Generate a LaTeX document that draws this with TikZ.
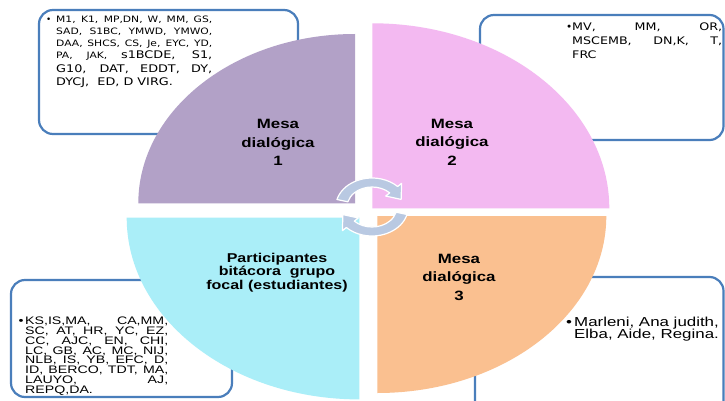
\documentclass[tikz,border=0pt]{standalone}
\usepackage{fontspec}
\usepackage{graphicx}
\setmainfont{Liberation Sans}
\newfontfamily\labfont[FakeStretch=1.25]{Liberation Sans}
\newfontfamily\ariw[FakeStretch=1.3]{Liberation Sans}
\newfontfamily\verw{DejaVu Sans}
\definecolor{purp}{HTML}{B2A1C7}
\definecolor{pinkq}{HTML}{F3B9F1}
\definecolor{peach}{HTML}{FAC090}
\definecolor{cyanq}{HTML}{AAEEF8}
\definecolor{boxblue}{HTML}{4A7EBB}
\definecolor{arrowfill}{RGB}{185,201,226}
\newcommand{\tls}{\verw\fontsize{8.8}{12}\selectfont}
\newcommand{\tlb}{\verw\fontsize{10.5}{12}\selectfont}
\newcommand{\trs}{\verw\fontsize{10.4}{14}\selectfont}
\newcommand{\bls}{\ariw\fontsize{10.9}{10}\selectfont}
\newcommand{\brs}{\ariw\fontsize{13}{12.5}\selectfont}
\newcommand{\wx}[1]{\scalebox{1.22}[1]{#1}}
\tikzset{
  box/.style={draw=boxblue, line width=2.2pt, rounded corners=14pt},
  ln/.style={anchor=base west, inner sep=0pt},
  lbl/.style={align=center, inner sep=0pt, text=black,
    font=\labfont\bfseries\fontsize{13.5}{18.5}\selectfont},
  lblc/.style={align=center, inner sep=0pt, text=black,
    font=\labfont\bfseries\fontsize{12.8}{13.5}\selectfont},
  band/.style={fill=arrowfill, draw=white, line width=1.2pt, line join=round},
}
\begin{document}
\begin{tikzpicture}[x=1pt,y=1pt]
\clip (0,0) rectangle (725,400);
\fill[white] (0,0) rectangle (725,400);
% boxes
\draw[box] (39,266) rectangle (298,390);
\draw[box] (480,260) rectangle (723.5,385);
\draw[box] (11,3) rectangle (232,120);
\draw[box] (475,-20) rectangle (723.5,123);
% quarters
\fill[purp] (355,196.7) -- (138.3,196.7) arc[start angle=180, end angle=90, x radius=216.7, y radius=169.3] -- cycle;
\fill[pinkq] (372.3,191.7) -- (372.3,376.7) arc[start angle=90, end angle=0, x radius=237, y radius=185] -- cycle;
\fill[peach] (377.3,184) -- (606.3,184) arc[start angle=0, end angle=-90, x radius=229, y radius=177] -- cycle;
\fill[cyanq] (359.3,182.3) -- (359.3,0.6) arc[start angle=270, end angle=180, x radius=232.6, y radius=181.7] -- cycle;
% circular arrows
\begin{scope}[shift={(372,193)}, xscale=1.25]
\path[band] (165:29) arc[start angle=165, end angle=45, radius=29] -- (45:33.5) -- (18:24.5) -- (45:15.5) -- (45:20) arc[start angle=45, end angle=165, radius=20] -- cycle;
\path[band] (345:29) arc[start angle=345, end angle=225, radius=29] -- (225:33.5) -- (198:24.5) -- (225:15.5) -- (225:20) arc[start angle=225, end angle=345, radius=20] -- cycle;
\end{scope}
% labels
\node[lbl] (m1) at (278,257.3) {Mesa\\dialógica\\1};
\node[lbl] (m2) at (452,258) {Mesa\\dialógica\\2};
\node[lbl] (m3) at (459,123) {Mesa\\dialógica\\3};
\node[lblc] (pb) at (277,127.7) {Participantes\\bitácora\ \ grupo\\focal (estudiantes)};
% top-left text
\node[ln] (tlb) at (46,377) {\tls •};
\node[ln] (tl1) at (56,377) {\tls\wx{\makebox[127.9pt][s]{M1, K1, MP,DN, W, MM, GS,}}};
\node[ln] (tl2) at (56,365) {\tls\wx{\makebox[127.9pt][s]{SAD, S1BC, YMWD, YMWO,}}};
\node[ln] (tl3) at (56,353.5) {\tls\wx{\makebox[127.9pt][s]{DAA, SHCS, CS, Je, EYC, YD,}}};
\node[ln] (tl4) at (56,341.5) {\wx{\makebox[127.9pt][s]{\tls PA, JAK, \tlb s1BCDE, S1,}}};
\node[ln] (tl5) at (56,328) {\tlb\wx{\makebox[127.9pt][s]{G10, DAT, EDDT, DY,}}};
\node[ln] (tl6) at (56,315) {\tlb\wx{DYCJ,\ \ ED, D VIRG.}};
% top-right text
\node[ln] (trb) at (566,369.4) {\trs •};
\node[ln] (tr1) at (572,369.4) {\trs\wx{\makebox[123pt][s]{MV, MM, OR,}}};
\node[ln] (tr2) at (572,355.4) {\trs\wx{\makebox[123pt][s]{MSCEMB, DN,K, T,}}};
\node[ln] (tr3) at (572,341.4) {\trs\wx{FRC}};
% bottom-left text
\node[ln] (blb) at (18.5,75.4) {\bls •};
\node[ln] (bl1) at (25,75.4) {\bls\makebox[143pt][s]{KS,IS,MA, CA,MM,}};
\node[ln] (bl2) at (25,65.6) {\bls\makebox[143pt][s]{SC, AT, HR, YC, EZ,}};
\node[ln] (bl3) at (25,55.8) {\bls\makebox[143pt][s]{CC, AJC, EN, CHI,}};
\node[ln] (bl4) at (25,46.0) {\bls\makebox[143pt][s]{LC, GB, AC, MC, NIJ,}};
\node[ln] (bl5) at (25,36.2) {\bls\makebox[143pt][s]{NLB, IS, YB, EFC, D,}};
\node[ln] (bl6) at (25,26.4) {\bls\makebox[143pt][s]{ID, BERCO, TDT, MA,}};
\node[ln] (bl7) at (25,16.6) {\bls\makebox[143pt][s]{LAUYO, AJ,}};
\node[ln] (bl8) at (25,6.8) {\bls REPQ,DA.};
% bottom-right text
\node[ln] (brb) at (566,73.3) {\brs •};
\node[ln] (br1) at (574,73.3) {\brs Marleni, Ana judith,};
\node[ln] (br2) at (574,61.3) {\brs Elba, Aide, Regina.};
\end{tikzpicture}
\end{document}
